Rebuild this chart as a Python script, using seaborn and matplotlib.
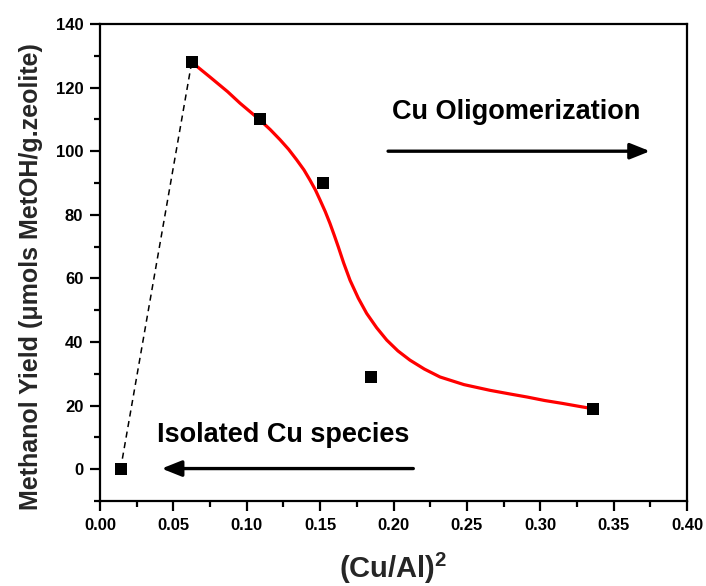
import matplotlib
matplotlib.use("Agg")
import matplotlib.pyplot as plt
import seaborn as sns
import pandas as pd

# Measured samples: (Cu/Al)^2 vs methanol yield
cu_al_sq = [0.014, 0.0625, 0.109, 0.152, 0.185, 0.336]
methanol_yield = [0.0, 128.0, 110.0, 90.0, 29.0, 19.0]

# Trend curve through the oligomerization regime
trend_x = [0.0625, 0.075, 0.087, 0.0954, 0.109, 0.116, 0.1227, 0.1285, 0.134,
           0.1390, 0.1431, 0.1468, 0.150, 0.1535, 0.1567, 0.1596, 0.1624,
           0.1660, 0.1704, 0.1760, 0.1817, 0.1885, 0.1954, 0.2030, 0.2112,
           0.2210, 0.2317, 0.2480, 0.2658, 0.280, 0.291, 0.303, 0.315,
           0.326, 0.336]
trend_y = [128.0, 123.3, 118.7, 115.1, 109.8, 106.8, 103.6, 100.6, 97.3,
           94.1, 90.9, 87.8, 84.6, 81.0, 77.3, 73.6, 69.9,
           64.9, 59.4, 53.8, 49.0, 44.5, 40.6, 37.2, 34.3,
           31.5, 29.0, 26.6, 24.8, 23.6, 22.7, 21.6, 20.7,
           19.8, 19.0]

x_ticks = [0.00, 0.05, 0.10, 0.15, 0.20, 0.25, 0.30, 0.35, 0.40]
y_ticks = [0, 20, 40, 60, 80, 100, 120, 140]

sns.set_theme(style="ticks")
plt.rcParams["font.family"] = ["Liberation Sans", "DejaVu Sans"]
plt.rcParams["font.weight"] = "bold"
plt.rcParams["mathtext.fontset"] = "custom"
plt.rcParams["mathtext.bf"] = "Liberation Sans:bold"
plt.rcParams["mathtext.rm"] = "Liberation Sans:bold"

fig = plt.figure(figsize=(7.06, 5.86), dpi=100)
ax = fig.add_axes([100 / 706, 1 - 501 / 586, 587 / 706, 477 / 586])

pts = pd.DataFrame({"x": cu_al_sq, "y": methanol_yield})
trend = pd.DataFrame({"x": trend_x, "y": trend_y})

# Dashed link from the isolated-Cu sample to the maximum
sns.lineplot(data=pts.iloc[:2], x="x", y="y", ax=ax, color="black",
             linewidth=1.1, linestyle=(0, (4, 3)), sort=False)
sns.lineplot(data=trend, x="x", y="y", ax=ax, color="#ff0000",
             linewidth=2.3, sort=False)
sns.scatterplot(data=pts, x="x", y="y", ax=ax, marker="s", s=80,
                color="black", edgecolor="black", linewidth=0, zorder=5)

ax.set_xlim(0.0, 0.40)
ax.set_ylim(-10, 140)
ax.set_xticks(x_ticks)
ax.set_xticklabels([f"{v:.2f}" for v in x_ticks])
ax.set_yticks(y_ticks)
ax.set_yticklabels([str(v) for v in y_ticks])
ax.set_xticks([0.025, 0.075, 0.125, 0.175, 0.225, 0.275, 0.325, 0.375], minor=True)
ax.set_yticks([-10, 10, 30, 50, 70, 90, 110, 130], minor=True)

for side in ["top", "right", "left", "bottom"]:
    ax.spines[side].set_visible(True)
    ax.spines[side].set_linewidth(1.6)
    ax.spines[side].set_color("black")

ax.tick_params(axis="both", which="major", direction="out", length=7,
               width=1.6, labelsize=12, colors="black", pad=5)
ax.tick_params(axis="both", which="minor", direction="out", length=4,
               width=1.6, colors="black")
for lbl in ax.get_xticklabels() + ax.get_yticklabels():
    lbl.set_fontweight("bold")

ax.set_xlabel(r"(Cu/Al)$^\mathbf{2}$", fontsize=21, fontweight="bold")
ax.xaxis.set_label_coords(0.5, -0.105)
ax.set_ylabel("Methanol Yield (\u03bcmols MetOH/g.zeolite)", fontsize=18,
              fontweight="bold")
ax.yaxis.set_label_coords(-0.097, 0.47)

# Regime annotations
ax.text(0.1987, 112.4, "Cu Oligomerization", fontsize=19.5, fontweight="bold",
        ha="left", va="center", color="black")
ax.annotate("", xy=(0.3748, 100), xytext=(0.1963, 100),
            arrowprops=dict(arrowstyle="-|>,head_length=1.0,head_width=0.4",
                            color="black", lw=2.4, shrinkA=0, shrinkB=0))
ax.text(0.0386, 10.7, "Isolated Cu species", fontsize=19.5, fontweight="bold",
        ha="left", va="center", color="black")
ax.annotate("", xy=(0.042, 0.2), xytext=(0.2135, 0.2),
            arrowprops=dict(arrowstyle="-|>,head_length=1.0,head_width=0.4",
                            color="black", lw=2.4, shrinkA=0, shrinkB=0))

fig.savefig("out.png", dpi=100, facecolor="white")
